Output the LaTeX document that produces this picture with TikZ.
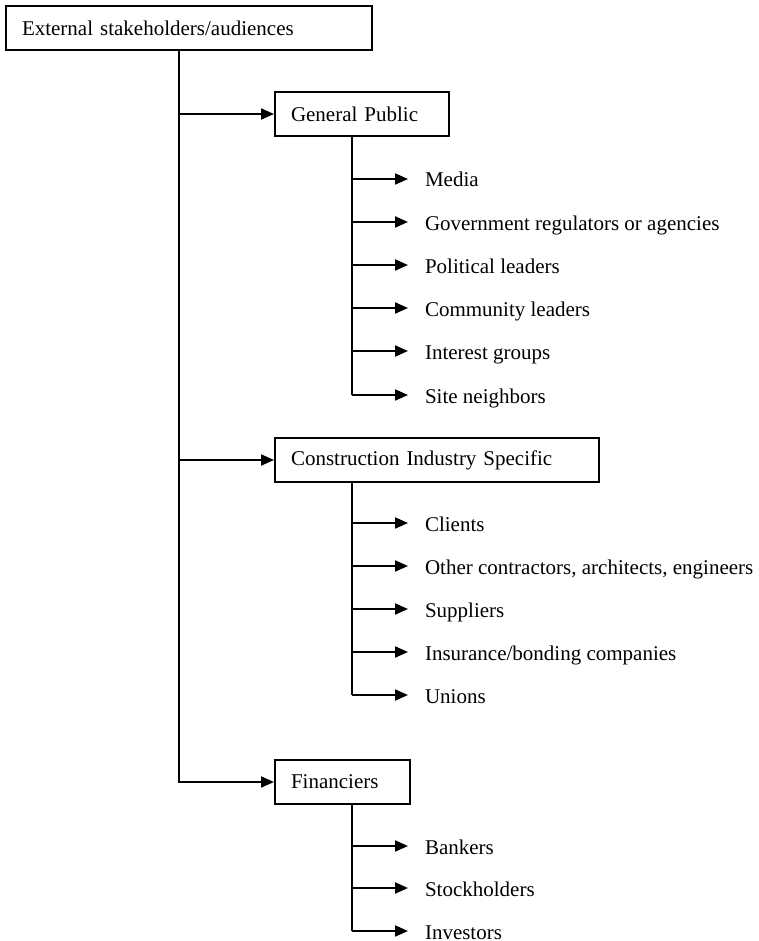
\documentclass[tikz,border=0pt]{standalone}
\usepackage{fontspec}
\setmainfont{Liberation Serif}
\usetikzlibrary{arrows.meta}
\begin{document}
\begin{tikzpicture}[x=0.5pt,y=-0.5pt,
  font=\fontsize{10.5}{12.6}\selectfont,
  line width=1pt,
  catbox/.style={draw, line width=1pt, anchor=north west, inner xsep=8pt,
    inner ysep=0pt, minimum height=22pt, align=left},
  leaf/.style={anchor=base west, inner sep=0pt},
  arr/.style={-{Triangle[length=6.5pt,width=5.5pt]}}]
\useasboundingbox (0,0) rectangle (759,941);

% top-level box and the trunk line under it
\node[catbox, text width=167pt] (top) at (5,5) {External stakeholders/audiences};
\coordinate (trunk) at (179,49);

% second-level boxes
\node[catbox, text width=71pt]  (gp)  at (274,91)  {General Public};
\node[catbox, text width=146pt] (cis) at (274,437) {Construction Industry Specific};
\node[catbox, text width=51.5pt] (fin) at (274,759) {Financiers};

\draw[arr] (trunk) |- (fin.west);
\draw[arr] (trunk |- gp.west) -- (gp.west);
\draw[arr] (trunk |- cis.west) -- (cis.west);

% branch points below each box
\coordinate (gpb)  at (352,135);
\coordinate (cisb) at (352,481);
\coordinate (finb) at (352,803);

\foreach \n/\y/\t in {media/179/Media,
    gov/222/Government regulators or agencies,
    pol/265/Political leaders,
    com/308/Community leaders,
    int/351/Interest groups,
    site/395/Site neighbors} {
  \node[leaf] (\n) at (424,\y+8) {\t};
  \coordinate (\n-tip) at (408,\y);
  \draw[arr] (gpb |- \n-tip) -- (\n-tip);
}
\draw (gpb) -- (gpb |- site-tip);

\foreach \n/\y/\t in {cli/523/Clients,
    oth/566/{Other contractors, architects, engineers},
    sup/609/Suppliers,
    ins/652/{Insurance/bonding companies},
    uni/695/Unions} {
  \node[leaf] (\n) at (424,\y+8) {\t};
  \coordinate (\n-tip) at (408,\y);
  \draw[arr] (cisb |- \n-tip) -- (\n-tip);
}
\draw (cisb) -- (cisb |- uni-tip);

\foreach \n/\y/\t in {ban/846/Bankers,
    sto/888/Stockholders,
    inv/931/Investors} {
  \node[leaf] (\n) at (424,\y+8) {\t};
  \coordinate (\n-tip) at (408,\y);
  \draw[arr] (finb |- \n-tip) -- (\n-tip);
}
\draw (finb) -- (finb |- inv-tip);
\end{tikzpicture}
\end{document}
